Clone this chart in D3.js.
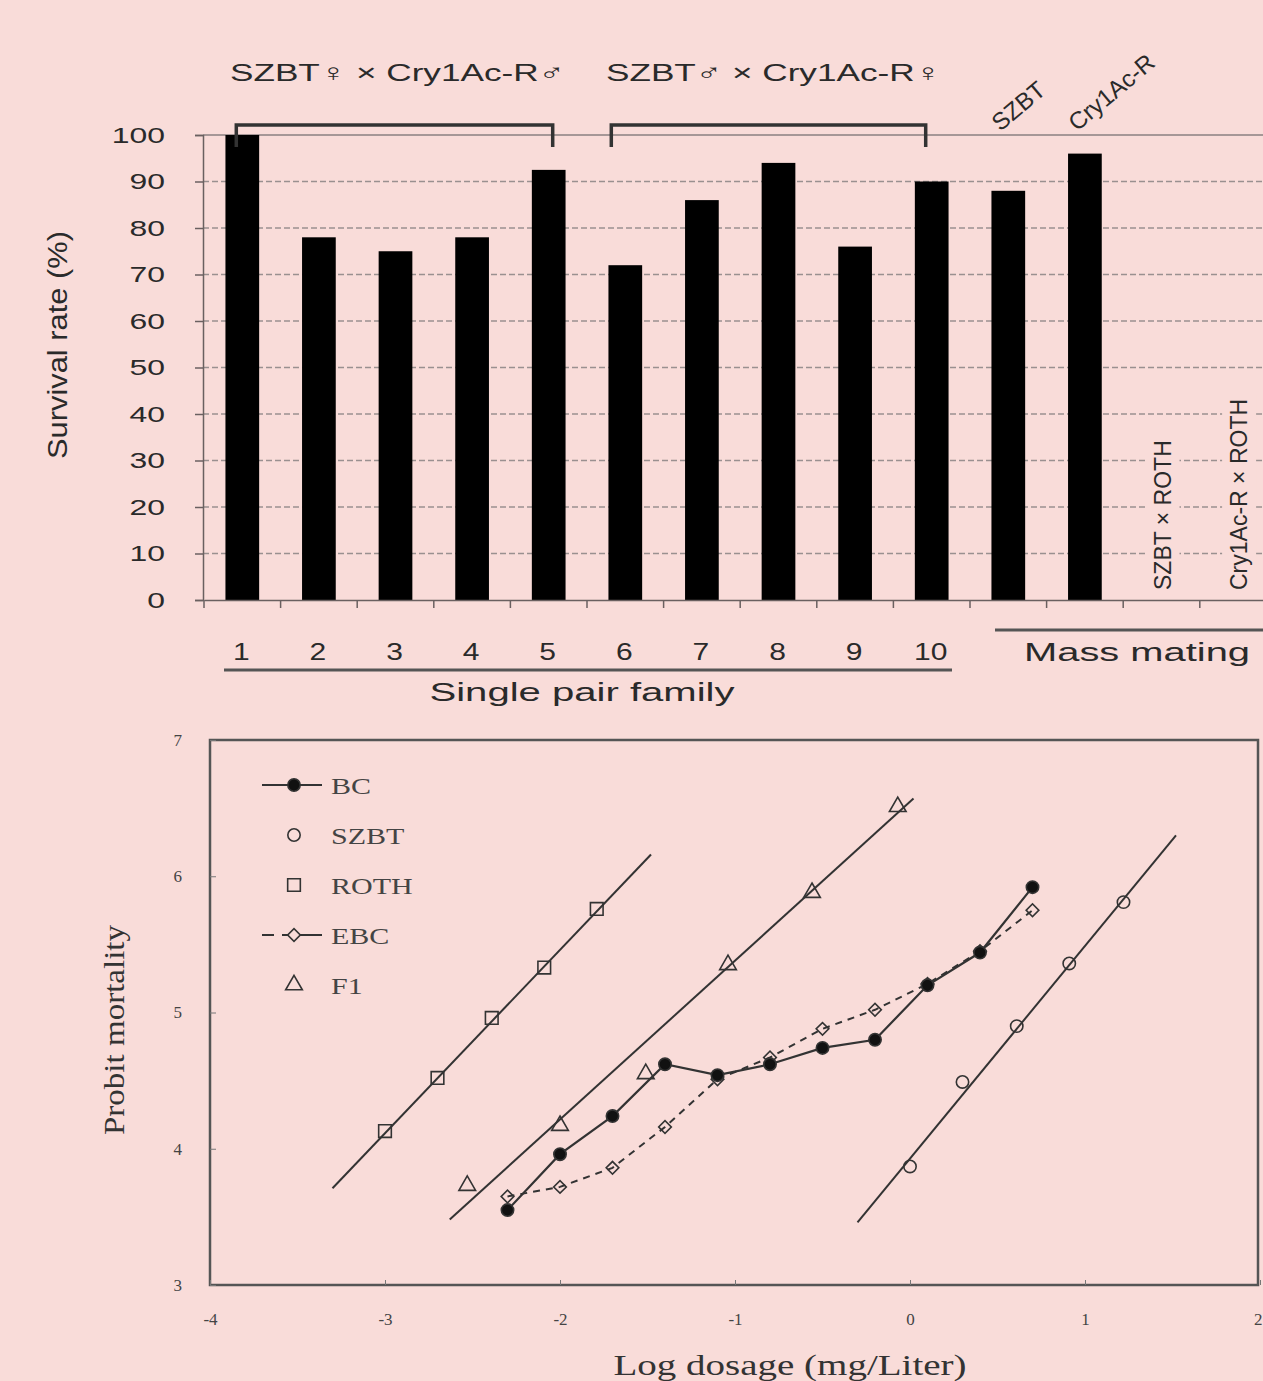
<!DOCTYPE html>
<html>
<head>
<meta charset="utf-8">
<script src="https://cdn.jsdelivr.net/npm/d3@7"></script>
<style>
  html, body { margin: 0; padding: 0; background: #f9dcd9; overflow: hidden; }
  svg { display: block; }
</style>
</head>
<body>
<svg id="chart" width="1263" height="1381"></svg>
<script>
// ---- top panel data (survival rate, %) ----
const families = ["1", "2", "3", "4", "5", "6", "7", "8", "9", "10",
  "SZBT", "Cry1Ac-R", "SZBT × ROTH", "Cry1Ac-R × ROTH"];
const survival = [100, 78, 75, 78, 92.5, 72, 86, 94, 76, 90, 88, 96, 0, 0];
const survivalTicks = [0, 10, 20, 30, 40, 50, 60, 70, 80, 90, 100];
const crossLabels = ["SZBT♀ × Cry1Ac-R♂", "SZBT♂ × Cry1Ac-R♀"];

// ---- bottom panel data (probit mortality vs log dosage) ----
const ebcDose = [-2.3, -2.0, -1.7, -1.4, -1.1, -0.8, -0.5, -0.2, 0.1, 0.4, 0.7];
const bcProbit = [3.55, 3.96, 4.24, 4.62, 4.54, 4.62, 4.74, 4.80, 5.20, 5.44, 5.92];
const ebcProbit = [3.65, 3.72, 3.86, 4.16, 4.51, 4.67, 4.88, 5.02, 5.21, 5.45, 5.75];
const rothDose = [-3.0, -2.7, -2.39, -2.09, -1.79];
const rothProbit = [4.13, 4.52, 4.96, 5.33, 5.76];
const rothLine = [[-3.30, 3.71], [-1.48, 6.16]];
const f1Dose = [-2.53, -2.0, -1.51, -1.04, -0.56, -0.07];
const f1Probit = [3.73, 4.17, 4.55, 5.35, 5.88, 6.51];
const f1Line = [[-2.63, 3.48], [0.02, 6.57]];
const szbtDose = [0.0, 0.3, 0.61, 0.91, 1.22];
const szbtProbit = [3.87, 4.49, 4.90, 5.36, 5.81];
const szbtLine = [[-0.30, 3.46], [1.52, 6.30]];
const doseTicks = [-4, -3, -2, -1, 0, 1, 2];
const probitTicks = [3, 4, 5, 6, 7];
const legendNames = ["BC", "SZBT", "ROTH", "EBC", "F1"];

const BG = "#f9dcd9";
const svg = d3.select("#chart");

// stretch text horizontally (the source figure is widened)
function stretch(sel, k) {
  sel.each(function () {
    const L = this.getComputedTextLength();
    d3.select(this).attr("textLength", L * k).attr("lengthAdjust", "spacingAndGlyphs");
  });
  return sel;
}

// =================== TOP PANEL ===================
const sans = "Liberation Sans, Arial, sans-serif";
const x = d3.scaleBand().domain(families).range([204, 204 + 76.6 * 14]).padding(0);
const y = d3.scaleLinear().domain([0, 100]).range([600, 135]);
const topG = svg.append("g");

// gridlines
topG.append("g").selectAll("line")
  .data(survivalTicks.filter(d => d > 0))
  .join("line")
  .attr("x1", 203).attr("x2", 1263)
  .attr("y1", d => y(d)).attr("y2", d => y(d))
  .attr("stroke", d => d === 100 ? "#8a8080" : "#9a9090")
  .attr("stroke-width", 1.5)
  .attr("stroke-dasharray", d => d === 100 ? null : "6,3");

// y axis
const yAxis = d3.axisLeft(y).tickValues(survivalTicks).tickSize(8).tickPadding(30);
const gy = topG.append("g").attr("transform", "translate(203,0)").call(yAxis);
gy.select(".domain").attr("stroke", "#6a6060").attr("stroke-width", 1.5);
gy.selectAll(".tick line").attr("stroke", "#6a6060").attr("stroke-width", 1.5);
gy.selectAll(".tick text").attr("font-family", sans).attr("font-size", 22)
  .attr("fill", "#2a2a2a").attr("x", -38);
stretch(gy.selectAll(".tick text"), 1.45);

// bars
topG.append("g").selectAll("rect")
  .data(families)
  .join("rect")
  .attr("x", (d, i) => x(d) + x.bandwidth() * 0.28)
  .attr("width", x.bandwidth() * 0.44)
  .attr("y", (d, i) => y(survival[i]))
  .attr("height", (d, i) => y(0) - y(survival[i]))
  .attr("fill", "#000");

// x axis
const xAxis = d3.axisBottom(x).tickSize(0).tickFormat("");
const gx = topG.append("g").attr("transform", "translate(0,600)").call(xAxis);
gx.select(".domain").attr("stroke", "#6a6060").attr("stroke-width", 1.5);
topG.append("g").selectAll("line")
  .data(families)
  .join("line")
  .attr("x1", d => x(d)).attr("x2", d => x(d))
  .attr("y1", 600).attr("y2", 608)
  .attr("stroke", "#6a6060").attr("stroke-width", 1.5);

// numeric family labels
const nums = topG.append("g").selectAll("text")
  .data(families.slice(0, 10))
  .join("text")
  .attr("x", d => x(d) + x.bandwidth() / 2 - 1)
  .attr("y", 660)
  .attr("text-anchor", "middle")
  .attr("font-family", sans).attr("font-size", 24).attr("fill", "#2a2a2a")
  .text(d => d);
stretch(nums, 1.25);

// group lines under / over the labels
topG.append("line").attr("x1", x("1") + 20).attr("x2", x("10") + x.bandwidth() - 18)
  .attr("y1", 670).attr("y2", 670).attr("stroke", "#555").attr("stroke-width", 3);
topG.append("line").attr("x1", x("SZBT") + 25).attr("x2", 1263)
  .attr("y1", 630).attr("y2", 630).attr("stroke", "#555").attr("stroke-width", 3);

topG.append("text").attr("x", 582).attr("y", 701).attr("text-anchor", "middle")
  .attr("font-family", sans).attr("font-size", 25).attr("fill", "#2a2a2a")
  .attr("textLength", 305).attr("lengthAdjust", "spacingAndGlyphs")
  .text("Single pair family");
topG.append("text").attr("x", 1137).attr("y", 661).attr("text-anchor", "middle")
  .attr("font-family", sans).attr("font-size", 25).attr("fill", "#2a2a2a")
  .attr("textLength", 226).attr("lengthAdjust", "spacingAndGlyphs")
  .text("Mass mating");

// y axis title
topG.append("text")
  .attr("transform", "translate(67,345) rotate(-90)")
  .attr("text-anchor", "middle")
  .attr("font-family", sans).attr("font-size", 27).attr("fill", "#2a2a2a")
  .attr("textLength", 228).attr("lengthAdjust", "spacingAndGlyphs")
  .text("Survival rate (%)");

// brackets + cross labels
const groups = [["1", "5"], ["6", "10"]];
groups.forEach((g, i) => {
  const x0 = x(g[0]) + x.bandwidth() / 2 - (i === 0 ? 6 : 14);
  const x1 = x(g[1]) + x.bandwidth() / 2 + (i === 0 ? 4 : -6);
  topG.append("path")
    .attr("d", `M${x0},147 V125 H${x1} V147`)
    .attr("fill", "none").attr("stroke", "#333").attr("stroke-width", 3.5);
  topG.append("text")
    .attr("x", (x0 + x1) / 2 + (i === 0 ? 3 : 5)).attr("y", 81)
    .attr("text-anchor", "middle")
    .attr("font-family", sans).attr("font-size", 24).attr("fill", "#2a2a2a")
    .attr("textLength", 335).attr("lengthAdjust", "spacingAndGlyphs")
    .text(crossLabels[i]);
});

// slanted parent labels
["SZBT", "Cry1Ac-R"].forEach(d => {
  topG.append("text")
    .attr("transform", `translate(${x(d) + x.bandwidth() / 2 - 8},132) rotate(-40)`)
    .attr("font-family", sans).attr("font-size", 24).attr("fill", "#2a2a2a")
    .text(d);
});

// vertical labels for the ROTH crosses (zero bars), with a background patch
["SZBT × ROTH", "Cry1Ac-R × ROTH"].forEach(d => {
  const cx = x(d) + x.bandwidth() / 2 + 9;
  const lg = topG.append("g").attr("transform", `translate(${cx},590) rotate(-90)`);
  const patch = lg.append("rect").attr("fill", BG);
  const t = lg.append("text")
    .attr("font-family", sans).attr("font-size", 23).attr("fill", "#2a2a2a")
    .text(d);
  const b = t.node().getBBox();
  patch.attr("x", b.x - 4).attr("y", b.y - 4)
    .attr("width", b.width + 8).attr("height", b.height + 8);
});

// =================== BOTTOM PANEL ===================
const serif = "Liberation Serif, Times New Roman, serif";
const bx = d3.scaleLinear().domain([-4, 2]).range([210, 1260]);
const by = d3.scaleLinear().domain([3, 7]).range([1285, 740]);
const bot = svg.append("g");

bot.append("rect")
  .attr("x", bx(-4)).attr("y", by(7))
  .attr("width", bx(2) - bx(-4) - 2).attr("height", by(3) - by(7))
  .attr("fill", "none").attr("stroke", "#555").attr("stroke-width", 2.5);

const gbx = bot.append("g").attr("transform", `translate(0,${by(3)})`)
  .call(d3.axisBottom(bx).tickValues(doseTicks).tickSize(-5).tickPadding(28)
    .tickFormat(d => d < 0 ? "-" + Math.abs(d) : d));
gbx.select(".domain").remove();
gbx.selectAll(".tick line").attr("stroke", "#777");
gbx.selectAll(".tick text").attr("font-family", serif).attr("font-size", 17).attr("fill", "#444");
// last label sits on the right edge of the picture
gbx.selectAll(".tick text").filter(d => d === 2).attr("text-anchor", "end").attr("x", 2);

const gby = bot.append("g").attr("transform", `translate(${bx(-4)},0)`)
  .call(d3.axisLeft(by).tickValues(probitTicks).tickSize(-6).tickPadding(28)
    .tickFormat(d3.format("d")));
gby.select(".domain").remove();
gby.selectAll(".tick line").attr("stroke", "#777");
gby.selectAll(".tick text").attr("font-family", serif).attr("font-size", 17).attr("fill", "#444");

bot.append("text").attr("x", 790).attr("y", 1375).attr("text-anchor", "middle")
  .attr("font-family", serif).attr("font-size", 30).attr("fill", "#333")
  .attr("textLength", 353).attr("lengthAdjust", "spacingAndGlyphs")
  .text("Log dosage (mg/Liter)");
bot.append("text")
  .attr("transform", "translate(124,1030) rotate(-90)")
  .attr("text-anchor", "middle")
  .attr("font-family", serif).attr("font-size", 30).attr("fill", "#333")
  .attr("textLength", 210).attr("lengthAdjust", "spacingAndGlyphs")
  .text("Probit  mortality");

const line = d3.line().x(d => bx(d[0])).y(d => by(d[1]));
const pts = (xs, ys) => xs.map((v, i) => [v, ys[i]]);
const ink = "#333";

// regression lines
[rothLine, f1Line, szbtLine].forEach(l => {
  bot.append("path").attr("d", line(l))
    .attr("fill", "none").attr("stroke", ink).attr("stroke-width", 2);
});
// BC and EBC connecting lines
bot.append("path").attr("d", line(pts(ebcDose, ebcProbit)))
  .attr("fill", "none").attr("stroke", ink).attr("stroke-width", 2)
  .attr("stroke-dasharray", "7,6");
bot.append("path").attr("d", line(pts(ebcDose, bcProbit)))
  .attr("fill", "none").attr("stroke", ink).attr("stroke-width", 2.2);

const sym = {
  BC: d3.symbol(d3.symbolCircle, 120),
  SZBT: d3.symbol(d3.symbolCircle, 120),
  ROTH: d3.symbol(d3.symbolSquare, 160),
  EBC: d3.symbol(d3.symbolSquare, 80),
  F1: d3.symbol(d3.symbolTriangle, 120)
};
const rot = n => n === "EBC" ? " rotate(45)" : "";
function marks(name, data, filled) {
  bot.append("g").selectAll("path")
    .data(data)
    .join("path")
    .attr("transform", d => `translate(${bx(d[0])},${by(d[1])})` + rot(name))
    .attr("d", sym[name])
    .attr("fill", filled ? "#111" : "none")
    .attr("stroke", ink).attr("stroke-width", 1.6);
}
marks("ROTH", pts(rothDose, rothProbit), false);
marks("F1", pts(f1Dose, f1Probit), false);
marks("SZBT", pts(szbtDose, szbtProbit), false);
marks("EBC", pts(ebcDose, ebcProbit), false);
marks("BC", pts(ebcDose, bcProbit), true);

// legend
const leg = bot.append("g");
legendNames.forEach((n, i) => {
  const ly = 785 + i * 50;
  if (n === "BC" || n === "EBC") {
    leg.append("line").attr("x1", 262).attr("x2", 322).attr("y1", ly).attr("y2", ly)
      .attr("stroke", ink).attr("stroke-width", 2)
      .attr("stroke-dasharray", n === "EBC" ? "12,8,40" : null);
  }
  leg.append("path").attr("transform", `translate(294,${ly})` + rot(n))
    .attr("d", sym[n])
    .attr("fill", n === "BC" ? "#111" : BG)
    .attr("stroke", ink).attr("stroke-width", 1.6);
  const t = leg.append("text").attr("x", 331).attr("y", ly + 9)
    .attr("font-family", serif).attr("font-size", 24).attr("fill", "#444")
    .text(n);
  stretch(t, 1.25);
});
</script>
</body>
</html>
